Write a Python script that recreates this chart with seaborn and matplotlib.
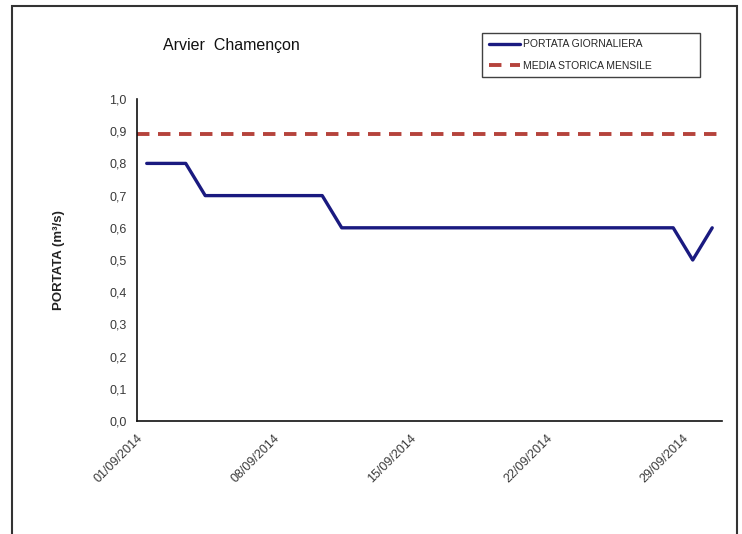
import numpy as np
import pandas as pd
import matplotlib
matplotlib.use("Agg")
import matplotlib.pyplot as plt
import matplotlib.dates as mdates
from matplotlib.patches import Rectangle
import seaborn as sns

# daily discharge, September 2014 (m3/s)
days = pd.date_range("2014-09-01", "2014-09-30", freq="D")
portata = [0.8, 0.8, 0.8, 0.7, 0.7, 0.7, 0.7, 0.7, 0.7, 0.7,
           0.6, 0.6, 0.6, 0.6, 0.6, 0.6, 0.6, 0.6, 0.6, 0.6,
           0.6, 0.6, 0.6, 0.6, 0.6, 0.6, 0.6, 0.6, 0.5, 0.6]
media_storica = 0.89
tick_dates = ["2014-09-01", "2014-09-08", "2014-09-15", "2014-09-22", "2014-09-29"]

df = pd.DataFrame({"data": days + pd.Timedelta(hours=12), "portata": portata})

sns.set_style("white")
plt.rcParams['font.family'] = ['Liberation Sans', 'DejaVu Sans']

fig = plt.figure(figsize=(7.42, 5.34), dpi=100)
ax = fig.add_axes([0.1846, 0.2116, 0.7884, 0.603])

sns.lineplot(data=df, x="data", y="portata", ax=ax, color="#1a1a80",
             linewidth=2.4, label="PORTATA GIORNALIERA")
ax.axhline(media_storica, color="#b5433c", linewidth=2.8, linestyle=(0, (3.2, 2.2)),
           label="MEDIA STORICA MENSILE")

ax.set_xlim(pd.Timestamp("2014-09-01"), pd.Timestamp("2014-10-01"))
ax.set_ylim(0, 1.0)
ax.set_yticks(np.arange(0, 1.01, 0.1))
ax.set_yticklabels([f"{v:.1f}".replace(".", ",") for v in np.arange(0, 1.01, 0.1)])
ax.set_xticks(pd.to_datetime(tick_dates))
ax.xaxis.set_major_formatter(mdates.DateFormatter("%d/%m/%Y"))
plt.setp(ax.get_xticklabels(), rotation=45, ha="right", rotation_mode="anchor")

ax.tick_params(axis="both", direction="out", length=4, width=1, colors="#222222",
               labelsize=9, labelcolor="#3a3a3a")
ax.tick_params(axis="x", pad=4)
for side in ["top", "right"]:
    ax.spines[side].set_visible(False)
for side in ["left", "bottom"]:
    ax.spines[side].set_color("#111111")
    ax.spines[side].set_linewidth(1.2)

ax.set_xlabel("")
ax.set_ylabel("PORTATA (m³/s)", fontsize=9.5, fontweight="bold", color="#222222", labelpad=32)

fig.text(0.22, 0.915, "Arvier  Chamençon", fontsize=11.5, color="#111111", va="center")

ax.get_legend().remove()
leg = fig.legend(loc="upper left", bbox_to_anchor=(0.643, 0.948, 0.307, 0.0), mode="expand",
                 fontsize=7.5, frameon=True, fancybox=False, edgecolor="#111111",
                 handlelength=3.0, borderpad=0.6, labelspacing=1.1, handletextpad=0.3)
leg.get_frame().set_linewidth(1.0)

# outer border of the picture
fig.patches.append(Rectangle((0.016, -0.05), 0.977, 1.039, transform=fig.transFigure,
                             fill=False, edgecolor="#333333", linewidth=1.5))

fig.savefig("out.png", dpi=100)
